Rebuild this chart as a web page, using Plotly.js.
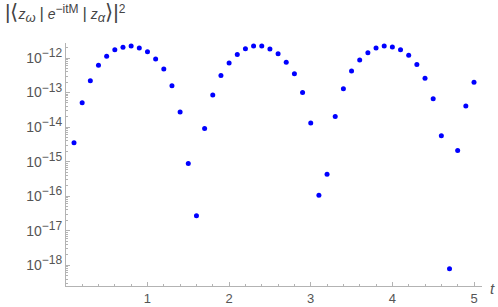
<!DOCTYPE html>
<html>
<head>
<meta charset="utf-8">
<script src="https://cdn.plot.ly/plotly-3.0.1.min.js"></script>
<style>html,body{margin:0;padding:0;background:#fff;}#chart{width:498px;height:307px;}</style>
</head>
<body>
<div id="chart"></div>
<script>
const tValues = [0.1,0.2,0.3,0.4,0.5,0.6,0.7,0.8,0.9,1.0,
  1.1,1.2,1.3,1.4,1.5,1.6,1.7,1.8,1.9,2.0,
  2.1,2.2,2.3,2.4,2.5,2.6,2.7,2.8,2.9,3.0,
  3.1,3.2,3.3,3.4,3.5,3.6,3.7,3.8,3.9,4.0,
  4.1,4.2,4.3,4.4,4.5,4.6,4.7,4.8,4.9,5.0];
const amplitudeValues = [3.5e-15,5.1e-14,2.2e-13,6.2e-13,1.12e-12,1.74e-12,2.04e-12,2.24e-12,1.95e-12,1.51e-12,
  9.3e-13,4.8e-13,1.58e-13,2.75e-14,8.9e-16,2.7e-17,9.1e-15,8.5e-14,3.1e-13,7.2e-13,
  1.26e-12,1.86e-12,2.24e-12,2.24e-12,1.82e-12,1.32e-12,7.6e-13,3.5e-13,1.0e-13,1.32e-14,
  1.07e-16,4.3e-16,2.04e-14,1.29e-13,4.2e-13,8.7e-13,1.41e-12,1.95e-12,2.24e-12,2.09e-12,
  1.74e-12,1.2e-12,6.5e-13,2.6e-13,6.6e-14,5.6e-15,7.9e-19,2.1e-15,4.1e-14,2.0e-13];
const yTickVals = [1e-18,1e-17,1e-16,1e-15,1e-14,1e-13,1e-12];
const yTickExponents = ['−18','−17','−16','−15','−14','−13','−12'];
const xTickVals = [1,2,3,4,5];
const xTickText = ['1','2','3','4','5'];

const axisColor = '#b3b3b3';
const labelColor = '#555555';
const fontFamily = '"Liberation Sans", Arial, sans-serif';

const yTickText = yTickExponents.map(e => "10<sup><span style='font-size:12px'>" + e + "</span></sup>");

const trace = {
  x: tValues, y: amplitudeValues, type: 'scatter', mode: 'markers',
  marker: {color: '#0000ff', size: 5}, hoverinfo: 'skip'
};

const layout = {
  width: 498, height: 307,
  margin: {l: 66, r: 16, t: 43, b: 21, pad: 0},
  paper_bgcolor: '#fff', plot_bgcolor: '#fff',
  showlegend: false,
  font: {family: fontFamily, color: labelColor, size: 12},
  title: {
    text: "<span style='font-size:21px'>|⟨</span><i>z</i><sub><span style='font-size:13px'><i>ω</i></span></sub> <span style='font-size:17px'>|</span> <i>e</i><sup><span style='font-size:12px'>−itM</span></sup> <span style='font-size:17px'>|</span> <i>z</i><sub><span style='font-size:13px'><i>α</i></span></sub><span style='font-size:21px'>⟩|</span><sup><span style='font-size:12px'>2</span></sup>",
    font: {family: fontFamily, size: 14, color: '#444'},
    xref: 'container', yref: 'container', x: 0.01, xanchor: 'left', y: 0.955, yanchor: 'middle'
  },
  xaxis: {
    range: [0.002, 5.098], showgrid: false, zeroline: false,
    showline: true, linecolor: axisColor, linewidth: 1,
    ticks: 'inside', ticklen: 4, tickcolor: axisColor, tickwidth: 1,
    tickmode: 'array', tickvals: xTickVals, ticktext: xTickText,
    tickfont: {size: 13, color: labelColor},
    minor: {dtick: 0.2, tick0: 0, ticks: 'inside', ticklen: 2, tickcolor: axisColor, showgrid: false}
  },
  yaxis: {
    type: 'log', range: [-18.6, -11.565], showgrid: false, zeroline: false,
    showline: true, linecolor: axisColor, linewidth: 1,
    ticks: 'inside', ticklen: 4, tickcolor: axisColor, tickwidth: 1,
    tickmode: 'array', tickvals: yTickVals, ticktext: yTickText,
    tickfont: {size: 14, color: labelColor},
    minor: {dtick: 'D1', ticks: 'inside', ticklen: 2, tickcolor: axisColor, showgrid: false}
  },
  annotations: [{
    text: '<i>t</i>', xref: 'paper', yref: 'paper', x: 1, y: 0,
    xanchor: 'left', yanchor: 'middle', xshift: 6, yshift: -2, showarrow: false,
    font: {family: fontFamily, size: 15, color: labelColor}
  }]
};

Plotly.newPlot('chart', [trace], layout, {displayModeBar: false, staticPlot: true});
</script>
</body>
</html>
